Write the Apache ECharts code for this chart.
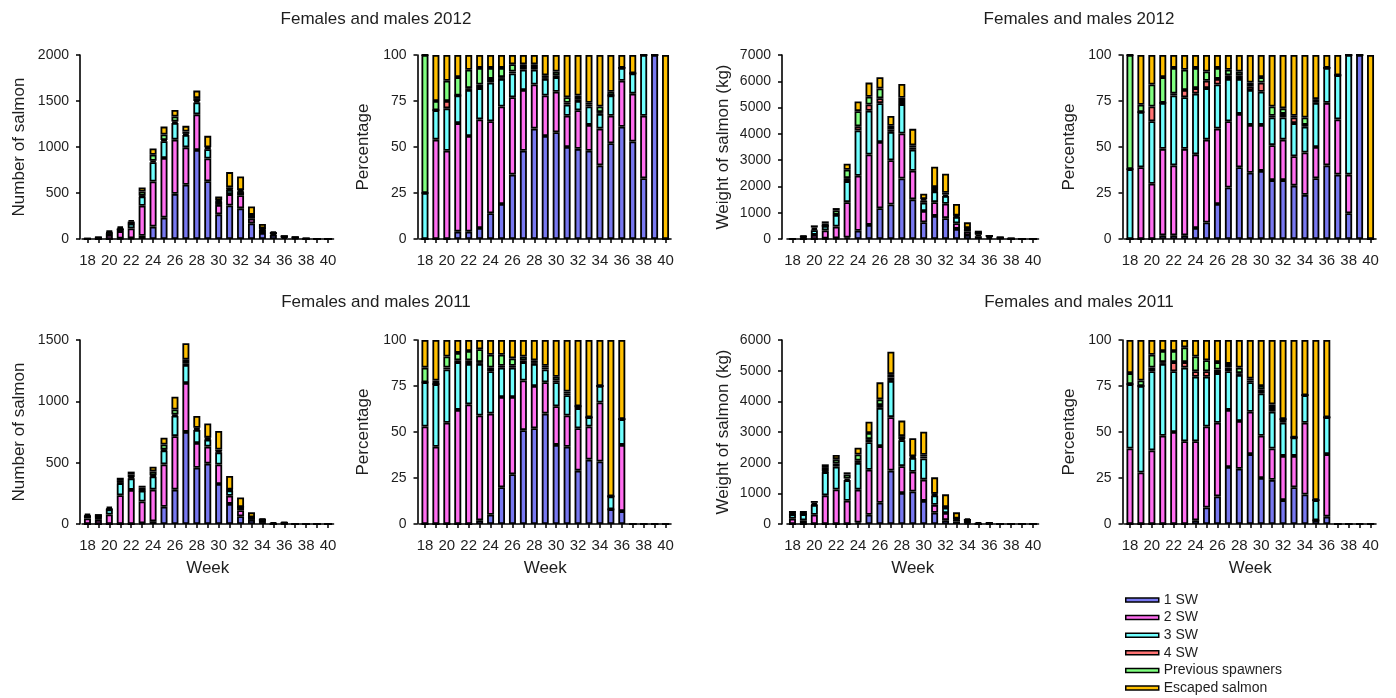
<!DOCTYPE html>
<html><head><meta charset="utf-8">
<script src="https://cdn.jsdelivr.net/npm/echarts@6/dist/echarts.min.js"></script>
<style>html,body{margin:0;padding:0;background:#fff}#c{width:1396px;height:698px}</style>
</head><body><div id="c"></div>
<script>
const weeks = ['18','19','20','21','22','23','24','25','26','27','28','29','30','31','32','33','34','35','36','37','38','39','40'];
const seriesNames = ['1 SW','2 SW','3 SW','4 SW','Previous spawners','Escaped salmon'];
const seriesColors = ['#7878f0','#ff6ef0','#70ffff','#ff7373','#80ff80','#ffc000'];

// rows: 1 SW, 2 SW, 3 SW, 4 SW, Previous spawners, Escaped salmon
const count2012 = [
  [0,0,0,5,8,36,135,232,491,590,968,628,268,364,333,170,65,43,18,10,1,1,0],
  [0,11,43,81,107,326,490,648,589,406,387,247,102,124,143,50,33,12,7,5,1,0,0],
  [1,3,21,21,52,100,210,183,182,135,129,101,37,44,34,35,13,9,2,2,1,0,0],
  [0,0,4,0,2,8,15,12,14,12,16,11,5,7,7,3,1,0,0,0,0,0,0],
  [3,1,10,14,21,45,65,61,56,25,32,11,9,22,14,4,5,2,0,0,0,0,0],
  [0,5,12,16,16,45,69,86,71,62,81,123,42,166,149,92,46,17,2,2,0,0,1]
];
const pct2012 = [
  [0,0,0,4,4,6,14,19,35,48,60,56,58,50,49,48,40,52,61,53,33,100,0],
  [0,54,48,59,52,59,50,53,42,33,24,22,22,17,21,14,20,15,25,26,34,0,0],
  [25,16,23,15,25,17,21,15,13,11,8,9,8,6,5,10,8,11,7,11,33,0,0],
  [0,0,4,0,1,2,2,1,1,1,1,1,1,1,1,1,1,0,0,0,0,0,0],
  [75,5,11,10,10,9,6,5,4,2,2,1,2,3,2,1,3,2,0,0,0,0,0],
  [0,25,14,12,8,7,7,7,5,5,5,11,9,23,22,26,28,20,7,10,0,0,100]
];
const weight2012 = [
  [0,0,0,13,24,57,314,536,1169,1312,2301,1508,637,879,794,385,152,104,51,21,2,3,0],
  [0,50,156,315,447,1345,2092,2677,2523,1686,1711,1089,431,522,546,213,146,54,43,18,3,0,0],
  [2,38,176,168,447,801,1726,1666,1477,1077,1121,796,310,412,298,239,89,76,24,14,10,0,0],
  [0,0,42,0,12,114,157,238,185,94,118,84,86,27,50,40,6,3,0,0,0,0,0],
  [3,5,62,94,165,315,575,297,369,141,118,84,52,137,74,13,25,3,0,0,0,0,0],
  [0,34,83,81,82,229,365,536,430,374,531,629,207,769,720,439,215,76,9,7,0,0,4]
];
const pctWeight2012 = [
  [0,0,0,2,2,2,6,9,19,28,39,36,37,32,32,29,24,33,40,35,14,100,0],
  [0,39,30,47,38,47,40,45,41,36,29,26,25,19,22,16,23,17,34,30,21,0,0],
  [38,30,34,25,38,28,33,28,24,23,19,19,18,15,12,18,14,24,19,24,65,0,0],
  [0,0,8,0,1,4,3,4,3,2,2,2,5,1,2,3,1,1,0,0,0,0,0],
  [62,4,12,14,14,11,11,5,6,3,2,2,3,5,3,1,4,1,0,0,0,0,0],
  [0,27,16,12,7,8,7,9,7,8,9,15,12,28,29,33,34,24,7,11,0,0,100]
];
const count2011 = [
  [0,0,0,0,0,6,23,141,280,751,458,492,326,164,63,33,16,1,1,0,0,0,0],
  [45,34,78,234,278,178,257,345,436,398,202,139,159,66,50,17,15,0,6,0,0,0,0],
  [20,28,41,98,94,87,107,113,166,147,106,57,99,43,24,5,4,1,2,0,0,0,0],
  [0,0,1,4,9,3,9,7,10,15,9,8,8,4,2,0,0,0,0,0,0,0,0],
  [7,2,8,15,21,22,33,42,42,29,9,8,15,4,0,0,0,0,0,0,0,0,0],
  [13,17,13,26,25,16,38,56,104,133,97,115,152,110,78,40,11,12,7,0,0,0,0]
];
const pct2011 = [
  [0,0,0,0,0,2,5,20,27,51,52,60,43,42,29,35,34,8,7,0,0,0,0],
  [53,42,55,62,65,57,55,49,42,27,23,17,21,17,23,18,32,0,36,0,0,0,0],
  [24,34,29,26,22,28,23,16,16,10,12,7,13,11,11,5,9,7,14,0,0,0,0],
  [0,0,1,1,2,1,2,1,1,1,1,1,1,1,1,0,0,0,0,0,0,0,0],
  [8,2,6,4,5,7,7,6,4,2,1,1,2,1,0,0,0,0,0,0,0,0,0],
  [15,22,9,7,6,5,8,8,10,9,11,14,20,28,36,42,25,85,43,0,0,0,0]
];
const weight2011 = [
  [0,0,0,0,0,0,50,300,693,1742,1011,1062,753,365,126,76,30,1,2,0,0,0,0],
  [174,119,300,934,1125,758,1070,1468,1848,1742,876,643,693,259,232,65,74,0,17,0,0,0,0],
  [148,199,322,759,743,674,871,901,1247,1180,843,447,693,304,174,38,29,7,10,0,0,0,0],
  [0,0,15,19,112,51,75,100,92,112,34,28,60,30,19,0,0,0,0,0,0,0,0],
  [25,13,53,117,135,135,199,200,185,112,101,28,60,30,0,0,0,0,0,0,0,0,0],
  [77,93,60,117,135,67,224,367,554,731,506,587,753,533,416,201,57,57,21,0,0,0,0]
];
const pctWeight2011 = [
  [0,0,0,0,0,0,2,9,15,31,30,38,25,24,13,20,16,2,4,0,0,0,0],
  [41,28,40,48,50,45,43,44,40,31,26,23,23,17,24,17,39,0,34,0,0,0,0],
  [35,47,43,39,33,40,35,27,27,21,25,16,23,20,18,10,15,11,20,0,0,0,0],
  [0,0,2,1,5,3,3,3,2,2,1,1,2,2,2,0,0,0,0,0,0,0,0],
  [6,3,7,6,6,8,8,6,4,2,3,1,2,2,0,0,0,0,0,0,0,0,0],
  [18,22,8,6,6,4,9,11,12,13,15,21,25,35,43,53,30,87,42,0,0,0,0]
];
const titles = ['Females and males 2012','Females and males 2011'];
const yNameCount = 'Number of salmon';
const yNamePct = 'Percentage';
const yNameWeight = 'Weight of salmon (kg)';
const xName = 'Week';

const FONT = '"Liberation Sans", Arial, Helvetica, sans-serif';
const TXT = '#1e1e1e';
const lefts = [82, 419.5, 787, 1124.5];
const offsets = [2, 2, 5, 2];
const gaps = [52, 46, 50, 45];
const tops = [55, 340];
const W = 251.5, H = 184;

const panels = [
  {data: count2012, max: 2000, interval: 500, name: yNameCount, col: 0, row: 0},
  {data: pct2012, max: 100, interval: 25, name: yNamePct, col: 1, row: 0},
  {data: weight2012, max: 7000, interval: 1000, name: yNameWeight, col: 2, row: 0},
  {data: pctWeight2012, max: 100, interval: 25, name: yNamePct, col: 3, row: 0},
  {data: count2011, max: 1500, interval: 500, name: yNameCount, col: 0, row: 1},
  {data: pct2011, max: 100, interval: 25, name: yNamePct, col: 1, row: 1},
  {data: weight2011, max: 6000, interval: 1000, name: yNameWeight, col: 2, row: 1},
  {data: pctWeight2011, max: 100, interval: 25, name: yNamePct, col: 3, row: 1}
];

const grid = [], xAxis = [], yAxis = [], series = [];
const axisLine = {show: true, lineStyle: {color: '#000', width: 1.6}};
panels.forEach((p, i) => {
  grid.push({left: lefts[p.col], top: tops[p.row], width: W, height: H, containLabel: false});
  xAxis.push({
    type: 'category', gridIndex: i, data: weeks, boundaryGap: true,
    name: p.row === 1 ? xName : '', nameLocation: 'middle', nameGap: 36,
    nameTextStyle: {fontFamily: FONT, fontSize: 17, color: TXT},
    axisLine: axisLine,
    axisTick: {show: true, alignWithLabel: true, interval: 0, length: 4, lineStyle: {color: '#000', width: 1.5}},
    axisLabel: {interval: 1, margin: 14, fontFamily: FONT, fontSize: 15, color: TXT},
    splitLine: {show: false}
  });
  yAxis.push({
    type: 'value', gridIndex: i, min: 0, max: p.max, interval: p.interval, offset: offsets[p.col],
    name: p.name, nameLocation: 'middle', nameGap: gaps[p.col],
    nameTextStyle: {fontFamily: FONT, fontSize: 17, color: TXT},
    axisLine: axisLine,
    axisTick: {show: true, length: 4, lineStyle: {color: '#000', width: 1.5}},
    axisLabel: {margin: 11, fontFamily: FONT, fontSize: 14, color: TXT, formatter: v => String(v)},
    splitLine: {show: false}
  });
  p.data.forEach((vals, si) => {
    series.push({
      name: seriesNames[si], type: 'bar', xAxisIndex: i, yAxisIndex: i, stack: 'g' + i,
      data: vals, barWidth: 7,
      itemStyle: {color: seriesColors[si], borderColor: '#000', borderWidth: 1.8},
      emphasis: {disabled: true}
    });
  });
});

const chart = echarts.init(document.getElementById('c'), null, {renderer: 'canvas'});
chart.setOption({
  animation: false,
  backgroundColor: '#fff',
  title: [
    {text: titles[0], left: 376, top: 11, textAlign: 'center', padding: 0, textStyle: {fontFamily: FONT, fontSize: 17, fontWeight: 'normal', color: TXT}},
    {text: titles[0], left: 1079, top: 11, textAlign: 'center', padding: 0, textStyle: {fontFamily: FONT, fontSize: 17, fontWeight: 'normal', color: TXT}},
    {text: titles[1], left: 376, top: 294, textAlign: 'center', padding: 0, textStyle: {fontFamily: FONT, fontSize: 17, fontWeight: 'normal', color: TXT}},
    {text: titles[1], left: 1079, top: 294, textAlign: 'center', padding: 0, textStyle: {fontFamily: FONT, fontSize: 17, fontWeight: 'normal', color: TXT}}
  ],
  legend: {
    data: seriesNames, orient: 'vertical', left: 1125, top: 593, padding: 0,
    itemWidth: 33, itemHeight: 4, itemGap: 3.6, icon: 'rect',
    itemStyle: {borderColor: '#000', borderWidth: 1.5},
    textStyle: {fontFamily: FONT, fontSize: 14, color: TXT}
  },
  grid, xAxis, yAxis, series
});
</script>
</body></html>
